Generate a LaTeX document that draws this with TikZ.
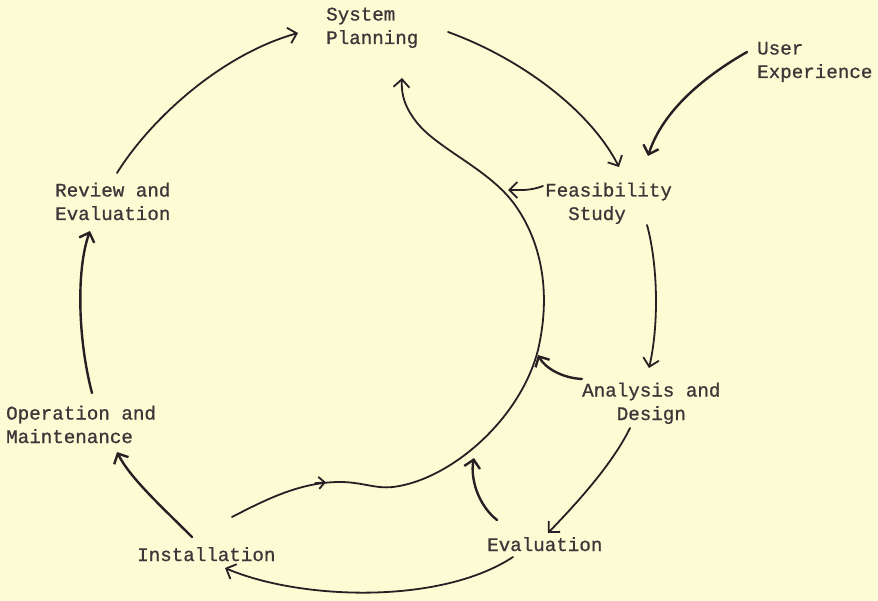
\documentclass[tikz,border=0pt]{standalone}
\usepackage{fontspec}
\setmonofont[FakeBold=0.8]{Liberation Mono}
\usetikzlibrary{arrows.meta}
\definecolor{bg}{RGB}{252,251,212}
\definecolor{ink}{RGB}{38,32,36}
\definecolor{txt}{RGB}{60,54,56}
\begin{document}
\begin{tikzpicture}[x=1pt,y=-1pt,
  lbl/.style={font=\ttfamily\fontsize{19.2}{23.5}\selectfont, text=txt, inner sep=0pt, align=left, anchor=base west},
  tipx/.style={-{Straight Barb[length=8pt,width=16pt]}},
  flow/.style={draw=ink, line width=1.8pt, line cap=round, tipx},
  thick flow/.style={flow, line width=2.4pt}]
\fill[bg] (0,0) rectangle (878,601);
\useasboundingbox (0,0) rectangle (878,601);

% labels (base anchor = baseline of the last line)
\node[lbl] (sp) at (326,44) {System\\Planning};
\node[lbl] (ux) at (757,78) {User\\Experience};
\node[lbl] (fs) at (545,220) {Feasibility\\~~Study};
\node[lbl] (ad) at (582,420) {Analysis and\\~~~Design};
\node[lbl] (ev) at (487,551) {Evaluation};
\node[lbl] (in) at (137,561) {Installation};
\node[lbl] (op) at (6,443) {Operation and\\Maintenance};
\node[lbl] (re) at (55,220) {Review and\\Evaluation};

% connector end points
\coordinate (sp-o) at (448,32);
\coordinate (fs-i1) at (619,167);
\coordinate (ux-o) at (747,52);
\coordinate (fs-i2) at (648,156);
\coordinate (fs-o1) at (543,186);
\coordinate (lp-i1) at (508,190);
\coordinate (fs-o2) at (647,225);
\coordinate (ad-i) at (649,368);
\coordinate (ad-o1) at (582,379);
\coordinate (lp-i2) at (538,355);
\coordinate (ad-o2) at (630,428);
\coordinate (ev-i) at (548,533);
\coordinate (ev-o1) at (497,520);
\coordinate (lp-i3) at (474,458);
\coordinate (ev-o2) at (513,557);
\coordinate (in-i) at (225,568);
\coordinate (in-o1) at (232,517);
\coordinate (sp-i1) at (402,78);
\coordinate (in-o2) at (192,537);
\coordinate (op-i) at (117,452);
\coordinate (op-o) at (92,393);
\coordinate (re-i) at (90,231);
\coordinate (re-o) at (117,173);
\coordinate (sp-i2) at (298,33);

% System Planning -> Feasibility Study
\draw[flow] (sp-o) .. controls (520,58) and (590,110) .. (fs-i1);
% User Experience -> Feasibility Study
\draw[thick flow] (ux-o) .. controls (705,76) and (663,110) .. (fs-i2);
% Feasibility -> loop
\draw[flow] (fs-o1) .. controls (530,191) and (520,190) .. (lp-i1);
% Feasibility -> Analysis
\draw[flow] (fs-o2) .. controls (658,265) and (659,325) .. (ad-i);
% Analysis -> loop
\draw[thick flow] (ad-o1) .. controls (562,378) and (545,368) .. (lp-i2);
% Analysis -> Evaluation
\draw[flow] (ad-o2) .. controls (612,465) and (575,505) .. (ev-i);
% Evaluation -> loop
\draw[thick flow] (ev-o1) .. controls (478,505) and (470,478) .. (lp-i3);
% Evaluation -> Installation
\draw[flow] (ev-o2) .. controls (440,605) and (300,600) .. (in-i);
% Installation -> loop back to System Planning
\draw[flow] (in-o1) .. controls (265,500) and (300,482) .. (340,482)
  .. controls (362,482) and (375,489) .. (393,487)
  .. controls (450,480) and (520,420) .. (538,350)
  .. controls (552,290) and (540,240) .. (515,205)
  .. controls (490,170) and (440,150) .. (418,124)
  .. controls (405,108) and (401,95) .. (sp-i1);
\draw[flow, -{Straight Barb[length=6pt,width=12pt]}] (315,483.2) -- (326,482.3);
% Installation -> Operation
\draw[thick flow] (in-o2) .. controls (162,507) and (130,478) .. (op-i);
% Operation -> Review
\draw[thick flow] (op-o) .. controls (78,340) and (76,270) .. (re-i);
% Review -> System Planning
\draw[flow] (re-o) .. controls (150,120) and (220,55) .. (sp-i2);
\end{tikzpicture}
\end{document}
